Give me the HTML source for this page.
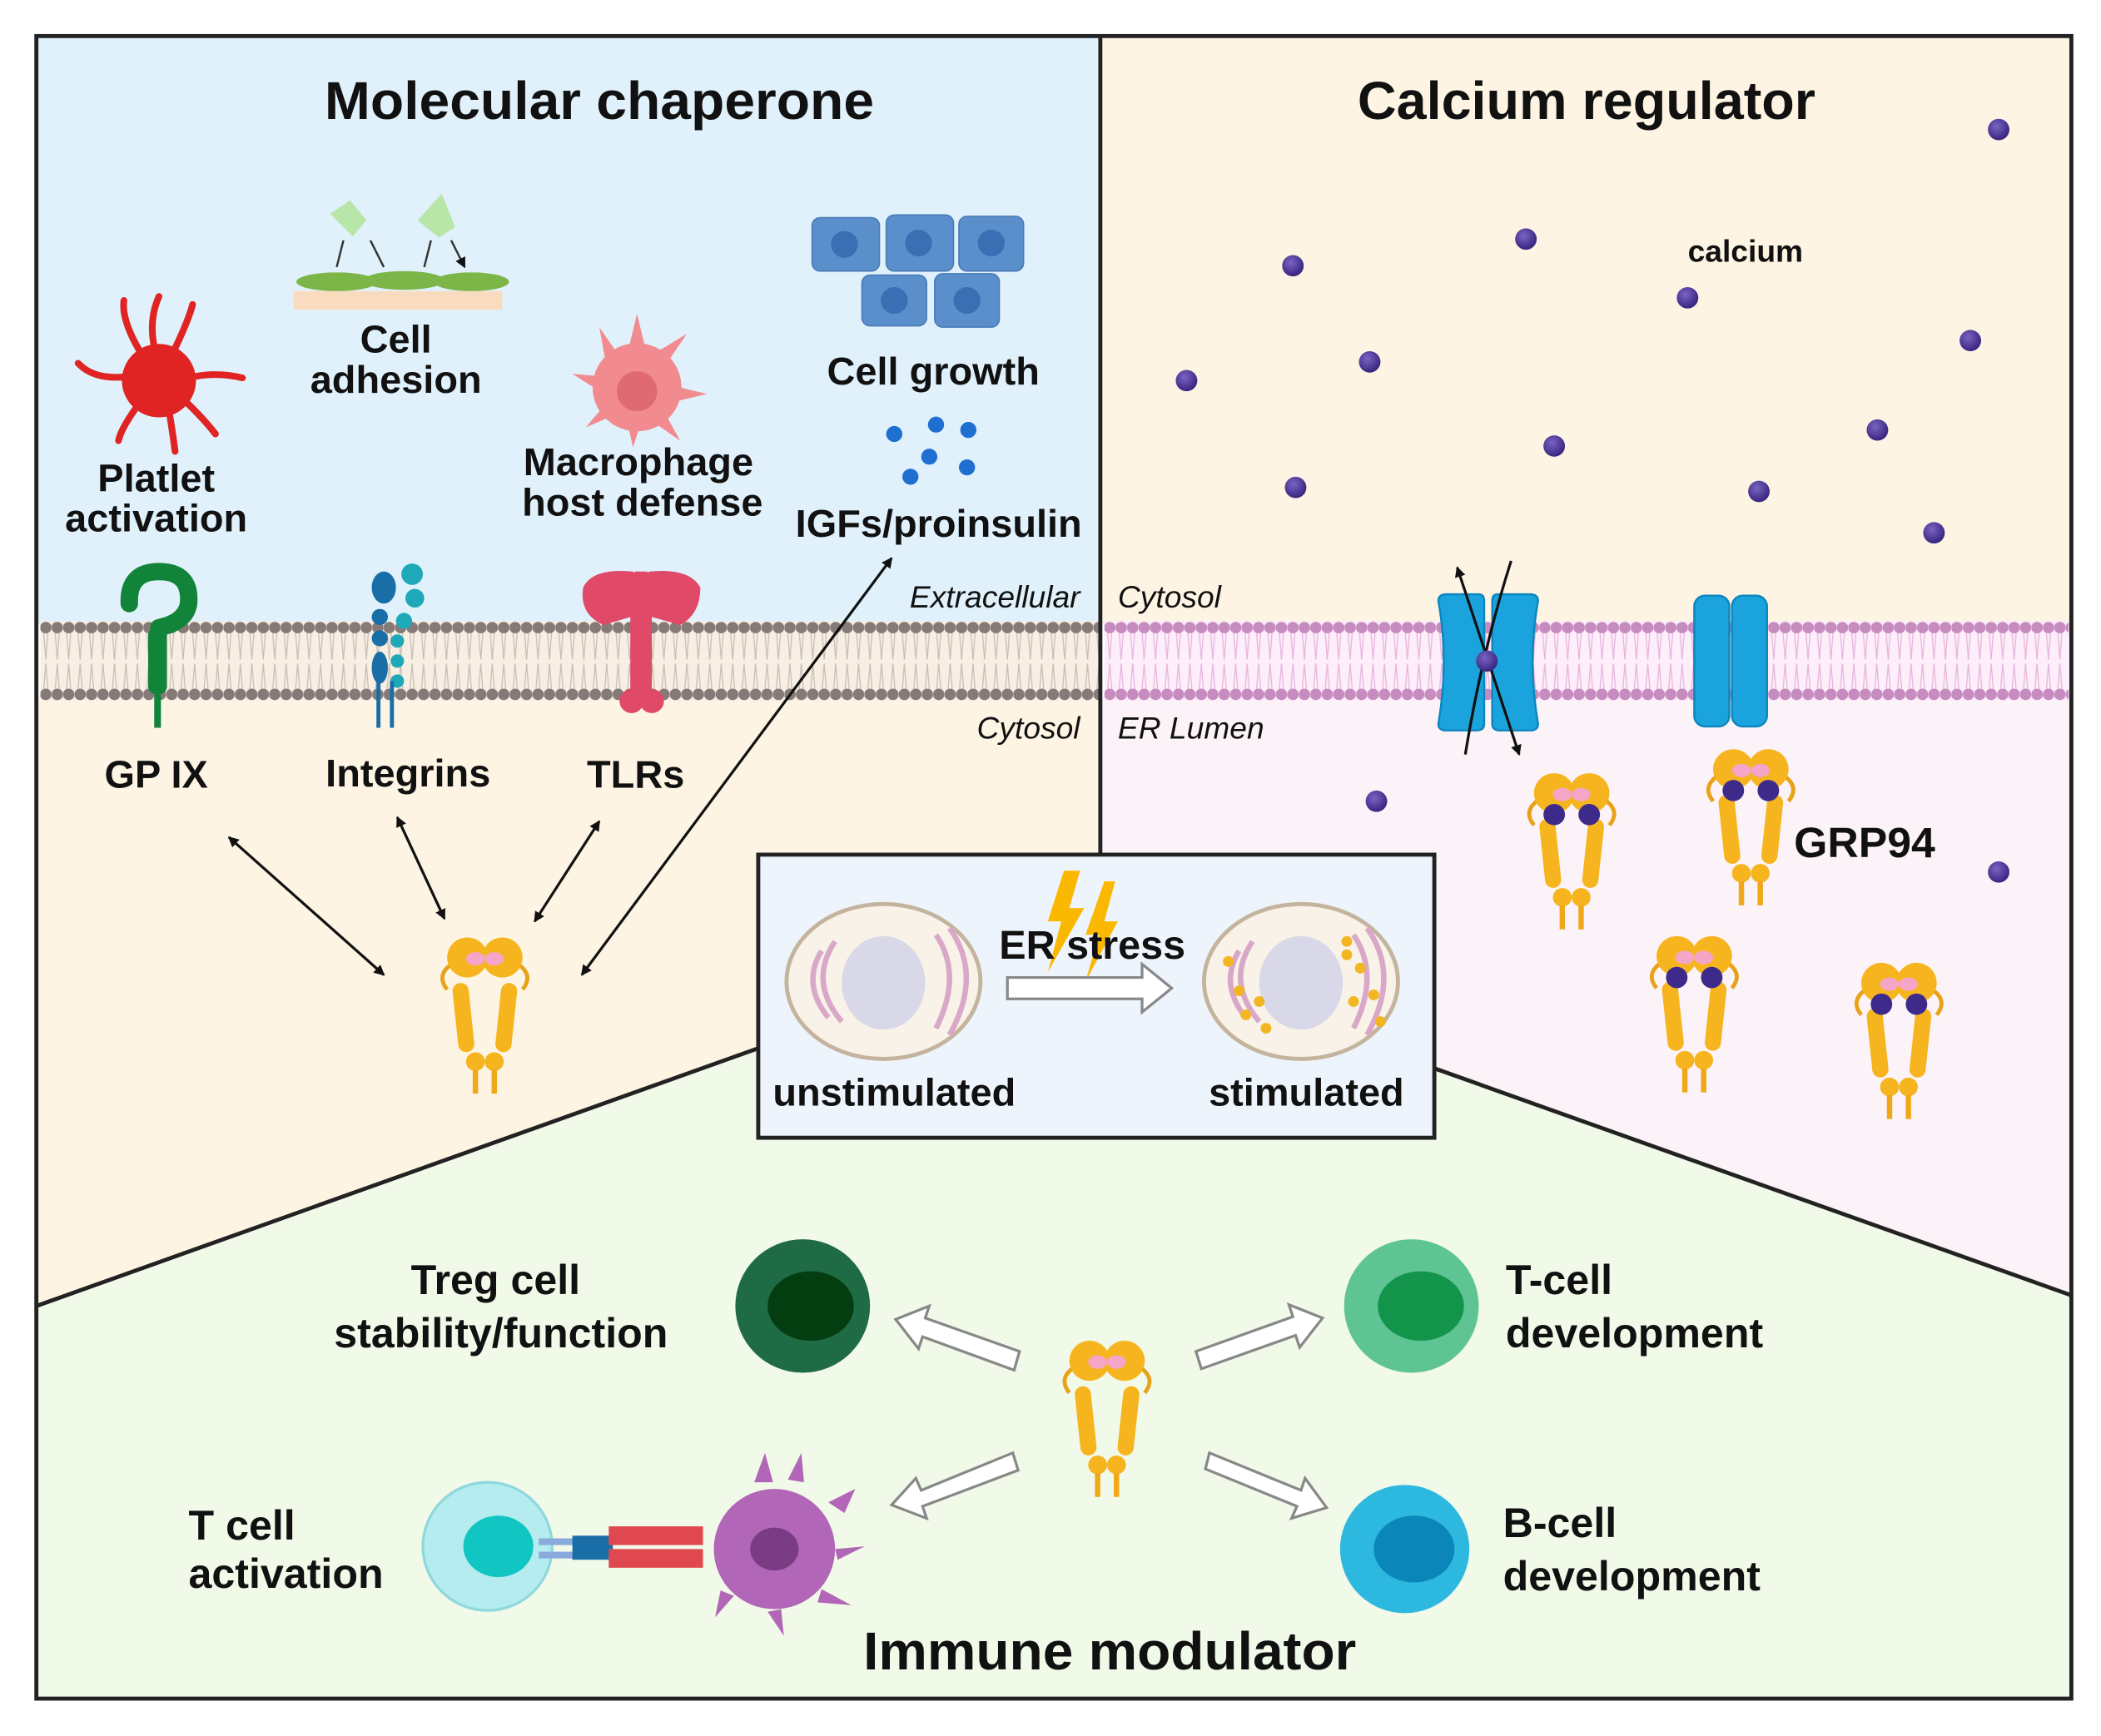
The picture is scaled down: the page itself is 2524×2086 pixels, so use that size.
<!DOCTYPE html>
<html><head><meta charset="utf-8"><style>
html,body{margin:0;padding:0;background:#fff}
svg{display:block}
text{font-family:"Liberation Sans Narrow","Liberation Sans",sans-serif;font-weight:bold;fill:#111}
</style></head><body>
<svg width="2524" height="2086" viewBox="0 0 1560 1300" preserveAspectRatio="none" xmlns="http://www.w3.org/2000/svg">
<defs>
<pattern id="lipG" x="30" y="0" width="8.5" height="1300" patternUnits="userSpaceOnUse">
<circle cx="4" cy="470" r="4.3" fill="#857a78"/><circle cx="4" cy="520" r="4.3" fill="#857a78"/>
<path d="M2.5 474 L4 494 M5.5 474 L4 494 M2.5 516 L4 497 M5.5 516 L4 497" stroke="#c9bdb4" stroke-width="0.8"/>
</pattern>
<pattern id="lipP" x="820" y="0" width="8.5" height="1300" patternUnits="userSpaceOnUse">
<circle cx="4" cy="470" r="4.3" fill="#c68cc0"/><circle cx="4" cy="520" r="4.3" fill="#c68cc0"/>
<path d="M2.5 474 L4 494 M5.5 474 L4 494 M2.5 516 L4 497 M5.5 516 L4 497" stroke="#e6b4dc" stroke-width="0.8"/>
</pattern>
<marker id="ah" markerWidth="8" markerHeight="8" refX="7" refY="4" orient="auto-start-reverse" markerUnits="userSpaceOnUse"><path d="M0 0 L8 4 L0 8 z" fill="#111"/></marker>
<g id="grp">
<path d="M-26 20 q-10 8 -2 18 M26 20 q10 8 2 18" stroke="#e8a21a" stroke-width="3" fill="none"/>
<circle cx="-13" cy="14" r="15" fill="#f6b51f"/><circle cx="13" cy="14" r="15" fill="#f6b51f"/>
<ellipse cx="-7" cy="15" rx="7" ry="5" fill="#f4a5c8"/><ellipse cx="7" cy="15" rx="7" ry="5" fill="#f4a5c8"/>
<rect x="-22" y="33" width="12" height="52" rx="6" fill="#f6b51f" transform="rotate(-6 -16 58)"/>
<rect x="10" y="33" width="12" height="52" rx="6" fill="#f6b51f" transform="rotate(6 16 58)"/>
<circle cx="-7" cy="92" r="7" fill="#f6b51f"/><circle cx="7" cy="92" r="7" fill="#f6b51f"/>
<path d="M-7 98 V116 M7 98 V116" stroke="#f0a818" stroke-width="4"/>
</g>
<g id="grpca"><use href="#grp"/><circle cx="-13" cy="30" r="8" fill="#3d2a8a"/><circle cx="13" cy="30" r="8" fill="#3d2a8a"/></g>
<radialGradient id="ca" cx="0.4" cy="0.35" r="0.7"><stop offset="0" stop-color="#7a64c4"/><stop offset="1" stop-color="#33207a"/></radialGradient>
</defs>

<rect x="27" y="27" width="790" height="440" fill="#e0f1fc"/>
<rect x="27" y="522" width="790" height="460" fill="#fdf4e3"/>
<rect x="817" y="27" width="721" height="440" fill="#fdf4e3"/>
<rect x="817" y="522" width="721" height="460" fill="#fcf3f8"/>
<polygon points="27,978 563,785 1065,800 1538,970 1538,1272 27,1272" fill="#f1f9e8"/>
<rect x="30" y="465" width="787" height="60" fill="#f8efe4"/>
<rect x="30" y="465" width="787" height="60" fill="url(#lipG)"/>
<rect x="820" y="465" width="716" height="60" fill="#fdeefa"/>
<rect x="820" y="465" width="716" height="60" fill="url(#lipP)"/>

<rect x="27" y="27" width="1511" height="1245" fill="none" stroke="#222" stroke-width="3"/>
<line x1="817" y1="27" x2="817" y2="640" stroke="#222" stroke-width="3"/>
<line x1="27" y1="978" x2="563" y2="785" stroke="#222" stroke-width="3"/>
<line x1="1065" y1="800" x2="1538" y2="970" stroke="#222" stroke-width="3"/>

<text x="445" y="89" font-size="40" text-anchor="middle" textLength="408" lengthAdjust="spacingAndGlyphs">Molecular chaperone</text>
<text x="1178" y="89" font-size="40" text-anchor="middle" textLength="340" lengthAdjust="spacingAndGlyphs">Calcium regulator</text>
<text x="824" y="1250" font-size="40" text-anchor="middle" textLength="366" lengthAdjust="spacingAndGlyphs">Immune modulator</text>

<g font-size="29" text-anchor="middle">
<text x="116" y="368">Platlet</text><text x="116" y="398">activation</text>
<text x="294" y="264">Cell</text><text x="294" y="294">adhesion</text>
<text x="474" y="356">Macrophage</text><text x="477" y="386">host defense</text>
<text x="693" y="288">Cell growth</text>
<text x="697" y="402">IGFs/proinsulin</text>
<text x="116" y="590">GP IX</text>
<text x="303" y="589">Integrins</text>
<text x="472" y="590">TLRs</text>
</g>
<g font-size="23" font-style="italic">
<text x="802" y="455" text-anchor="end" style="font-weight:normal">Extracellular</text>
<text x="830" y="455" style="font-weight:normal">Cytosol</text>
<text x="802" y="553" text-anchor="end" style="font-weight:normal">Cytosol</text>
<text x="830" y="553" style="font-weight:normal">ER Lumen</text>
</g>

<g fill="#e02424" stroke="#e02424" stroke-linecap="round">
<circle cx="118" cy="285" r="27"/>
<path d="M105 265 Q90 240 92 225 M115 262 Q110 240 118 222 M128 265 Q140 240 143 228 M95 282 Q70 285 58 272 M140 283 Q160 278 180 283 M105 300 Q90 320 88 330 M125 305 Q128 322 130 338 M135 298 Q150 312 160 325" stroke-width="5" fill="none"/>
</g>
<rect x="218" y="218" width="155" height="14" fill="#f9dcc0"/>
<ellipse cx="250" cy="211" rx="30" ry="7" fill="#7db648"/><ellipse cx="300" cy="210" rx="30" ry="7" fill="#7db648"/><ellipse cx="350" cy="211" rx="28" ry="7" fill="#7db648"/>
<path d="M245 160 l15 -10 l12 15 l-10 12 z M310 165 l18 -20 l10 25 l-12 8 z" fill="#b8e6a8"/>
<path d="M255 180 L250 200 M275 180 L285 200 M320 180 L315 200 M335 180 L345 200" stroke="#333" stroke-width="1.5" marker-end="url(#ah)"/>
<g fill="#f28b8f"><circle cx="473" cy="290" r="33"/>
<path d="M473 235 l6 25 l-12 0 z M510 250 l-15 22 l-8 -8 z M525 295 l-25 6 l0 -12 z M505 330 l-20 -14 l8 -8 z M470 335 l-5 -22 l12 0 z M435 320 l15 -18 l8 8 z M425 280 l24 2 l-2 12 z M445 245 l15 22 l-10 6 z"/></g>
<circle cx="473" cy="293" r="15" fill="#e06a72"/>
<g fill="#5a8fcb" stroke="#4a7bb6"><rect x="603" y="163" width="50" height="40" rx="6"/><rect x="658" y="161" width="50" height="42" rx="6"/><rect x="712" y="162" width="48" height="41" rx="6"/><rect x="640" y="206" width="48" height="38" rx="6"/><rect x="694" y="205" width="48" height="40" rx="6"/></g>
<g fill="#3a6fb3"><circle cx="627" cy="183" r="10"/><circle cx="682" cy="182" r="10"/><circle cx="736" cy="182" r="10"/><circle cx="664" cy="225" r="10"/><circle cx="718" cy="225" r="10"/></g>
<g fill="#1e6fd0"><circle cx="664" cy="325" r="6"/><circle cx="695" cy="318" r="6"/><circle cx="719" cy="322" r="6"/><circle cx="690" cy="342" r="6"/><circle cx="718" cy="350" r="6"/><circle cx="676" cy="357" r="6"/></g>

<path d="M96 452 Q95 428 118 428 Q142 428 140 452 Q138 466 118 470" stroke="#12843a" stroke-width="13" fill="none" stroke-linecap="round"/>
<rect x="110" y="470" width="14" height="50" rx="6" fill="#12843a"/><line x1="117" y1="520" x2="117" y2="545" stroke="#12843a" stroke-width="5"/>
<g fill="#1a6ea8"><ellipse cx="285" cy="440" rx="9" ry="12"/><circle cx="282" cy="462" r="6"/><circle cx="282" cy="478" r="6"/><ellipse cx="282" cy="500" rx="6" ry="12"/></g>
<g fill="#1fa8b8"><circle cx="306" cy="430" r="8"/><circle cx="308" cy="448" r="7"/><circle cx="300" cy="465" r="6"/><circle cx="295" cy="480" r="5"/><circle cx="295" cy="495" r="5"/><circle cx="295" cy="510" r="5"/></g>
<path d="M281 510 V545 M291 510 V545" stroke="#1a6ea8" stroke-width="3"/>
<path d="M448 468 Q430 460 433 440 Q440 425 470 428 Q478 445 475 460 M505 468 Q520 460 520 440 Q512 425 482 428 Q474 445 477 460" fill="#e04968"/>
<rect x="468" y="428" width="16" height="100" rx="5" fill="#e04968"/>
<circle cx="469" cy="525" r="9" fill="#e04968"/><circle cx="484" cy="525" r="9" fill="#e04968"/>

<use href="#grp" x="360" y="703"/>
<g stroke="#111" stroke-width="2" marker-start="url(#ah)" marker-end="url(#ah)" fill="none">
<line x1="170" y1="627" x2="285" y2="730"/>
<line x1="295" y1="612" x2="330" y2="688"/>
<line x1="445" y1="615" x2="397" y2="690"/>
<line x1="432" y1="730" x2="662" y2="418"/>
</g>

<text x="1296" y="196" font-size="23" text-anchor="middle">calcium</text>
<g fill="url(#ca)">
<circle cx="1484" cy="97" r="8"/><circle cx="960" cy="199" r="8"/><circle cx="1133" cy="179" r="8"/><circle cx="1253" cy="223" r="8"/><circle cx="1463" cy="255" r="8"/><circle cx="881" cy="285" r="8"/><circle cx="1017" cy="271" r="8"/><circle cx="1394" cy="322" r="8"/><circle cx="1154" cy="334" r="8"/><circle cx="962" cy="365" r="8"/><circle cx="1306" cy="368" r="8"/><circle cx="1436" cy="399" r="8"/><circle cx="1022" cy="600" r="8"/><circle cx="1484" cy="653" r="8"/>
</g>
<g fill="#1aa3dd" stroke="#0d86bd" stroke-width="1.5">
<path d="M1068 450 q0 -5 6 -5 h24 q4 0 4 5 v92 q0 5 -6 5 h-22 q-6 0 -6 -5 q8 -47 0 -92z"/>
<path d="M1142 450 q0 -5 -6 -5 h-24 q-4 0 -4 5 v92 q0 5 6 5 h22 q6 0 6 -5 q-8 -47 0 -92z"/>
<rect x="1258" y="446" width="26" height="98" rx="8"/><rect x="1286" y="446" width="26" height="98" rx="8"/>
</g>
<path d="M1082 425 Q1105 495 1128 565" stroke="#111" stroke-width="2" fill="none" marker-start="url(#ah)" marker-end="url(#ah)"/>
<path d="M1122 420 Q1100 490 1088 565" stroke="#111" stroke-width="2" fill="none"/>
<circle cx="1104" cy="495" r="8" fill="url(#ca)"/>
<use href="#grpca" x="1167" y="580"/>
<use href="#grpca" x="1300" y="562"/>
<use href="#grpca" x="1258" y="702"/>
<use href="#grpca" x="1410" y="722"/>
<text x="1332" y="642" font-size="32">GRP94</text>

<rect x="563" y="640" width="502" height="212" fill="#eef4fb" stroke="#222" stroke-width="3"/>
<g>
<ellipse cx="656" cy="735" rx="72" ry="58" fill="#f8f2e8" stroke="#c4b49e" stroke-width="3"/>
<ellipse cx="656" cy="736" rx="31" ry="35" fill="#d8d8e8"/>
<path d="M610 712 q-15 25 5 50 M620 705 q-20 30 5 60 M695 700 q20 30 0 70 M705 695 q25 35 0 80" stroke="#d9a8c8" stroke-width="4" fill="none"/>
<ellipse cx="966" cy="735" rx="72" ry="58" fill="#f8f2e8" stroke="#c4b49e" stroke-width="3"/>
<ellipse cx="966" cy="736" rx="31" ry="35" fill="#d8d8e8"/>
<path d="M920 712 q-15 25 5 50 M930 705 q-20 30 5 60 M1005 700 q20 30 0 70 M1015 695 q25 35 0 80" stroke="#d9a8c8" stroke-width="4" fill="none"/>
<g fill="#f2b622"><circle cx="912" cy="720" r="4"/><circle cx="920" cy="742" r="4"/><circle cx="925" cy="760" r="4"/><circle cx="935" cy="750" r="4"/><circle cx="940" cy="770" r="4"/><circle cx="1000" cy="705" r="4"/><circle cx="1010" cy="725" r="4"/><circle cx="1020" cy="745" r="4"/><circle cx="1005" cy="750" r="4"/><circle cx="1025" cy="765" r="4"/><circle cx="1000" cy="715" r="4"/></g>
<path d="M790 652 L778 690 L788 690 L778 728 L805 680 L794 680 L802 652z M820 660 L806 700 L816 700 L806 735 L830 690 L820 690 L828 660z" fill="#fbb800"/>
<path d="M748 732 h100 v-10 l22 18 l-22 18 v-10 h-100z" fill="#fff" stroke="#888" stroke-width="2"/>
<text x="811" y="718" font-size="30" text-anchor="middle">ER stress</text>
<text x="664" y="828" font-size="29" text-anchor="middle">unstimulated</text>
<text x="970" y="828" font-size="29" text-anchor="middle">stimulated</text>
</g>

<g font-size="31">
<text x="368" y="969" text-anchor="middle">Treg cell</text>
<text x="372" y="1009" text-anchor="middle">stability/function</text>
<text x="1118" y="969">T-cell</text><text x="1118" y="1009">development</text>
<text x="140" y="1153">T cell</text><text x="140" y="1189">activation</text>
<text x="1116" y="1151">B-cell</text><text x="1116" y="1191">development</text>
</g>
<circle cx="596" cy="978" r="50" fill="#1f6b45"/><ellipse cx="602" cy="978" rx="32" ry="26" fill="#033d10"/>
<circle cx="1048" cy="978" r="50" fill="#5fc493"/><ellipse cx="1055" cy="978" rx="32" ry="26" fill="#12954b"/>
<circle cx="1043" cy="1160" r="48" fill="#2db8df"/><ellipse cx="1050" cy="1160" rx="30" ry="25" fill="#0a86b8"/>
<circle cx="362" cy="1158" r="48" fill="#b4ecef" stroke="#8fd8dc" stroke-width="2"/><ellipse cx="370" cy="1158" rx="26" ry="23" fill="#11c6c2"/>
<g fill="#b266b8"><circle cx="575" cy="1160" r="45"/>
<path d="M560 1110 l8 -22 l6 22z M585 1108 l10 -20 l2 22z M615 1125 l20 -10 l-8 18z M620 1160 l22 -2 l-20 10z M610 1190 l22 12 l-25 -2z M580 1205 l2 20 l-12 -18z M545 1195 l-14 16 l4 -20z"/></g>
<ellipse cx="575" cy="1160" rx="18" ry="16" fill="#7a3c82"/>
<rect x="400" y="1152" width="40" height="5" fill="#8ad"/><rect x="400" y="1162" width="40" height="5" fill="#8ad"/>
<rect x="425" y="1150" width="30" height="18" fill="#1a6ea8"/>
<rect x="452" y="1143" width="70" height="14" fill="#e04850"/><rect x="452" y="1160" width="70" height="14" fill="#e04850"/>
<use href="#grp" x="822" y="1005"/>
<g fill="#fff" stroke="#888" stroke-width="2">
<path d="M757 1012 l-70 -25 l3 -9 l-25 10 l17 22 l3 -9 l68 25z"/>
<path d="M892 1025 l70 -25 l3 9 l17 -22 l-25 -10 l3 9 l-72 26z"/>
<path d="M752 1088 l-68 28 l-4 -9 l-18 20 l26 10 l-3 -9 l71 -27z"/>
<path d="M895 1100 l68 28 l-4 9 l26 -8 l-16 -22 l-3 9 l-68 -28z"/>
</g>
</svg>
</body></html>
